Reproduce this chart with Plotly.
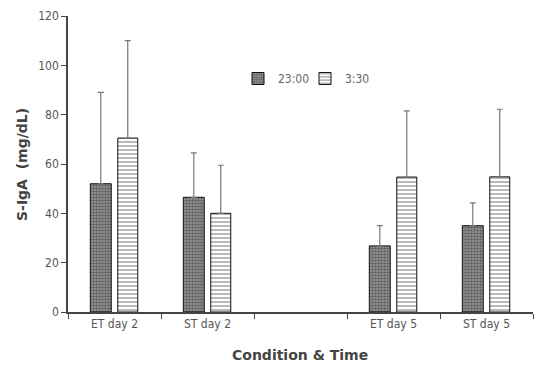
import plotly.graph_objects as go

categories = ["ET day 2", "ST day 2", " ", "ET day 5", "ST day 5"]
series_names = ["23:00", "3:30"]
vals_2300 = [52, 46.5, None, 26.8, 35]
top_2300 = [89, 64.5, None, 35, 44.2]
vals_0330 = [70.5, 40, None, 54.7, 54.8]
top_0330 = [110, 59.5, None, 81.5, 82.2]

def upper(vals, tops):
    return [(t - v) if v is not None else None for v, t in zip(vals, tops)]

font_fam = "DejaVu Sans Condensed, Liberation Sans Narrow, Liberation Sans"

fig = go.Figure()
fig.add_trace(go.Bar(
    name=series_names[0], x=categories, y=vals_2300,
    offset=-0.26, width=0.225, legend="legend",
    marker=dict(color="#808080", line=dict(color="#111", width=1),
                pattern=dict(shape=".", fgcolor="#262626", bgcolor="#9a9a9a", size=3, solidity=0.55)),
    error_y=dict(type="data", symmetric=False, array=upper(vals_2300, top_2300),
                 arrayminus=[0]*5, color="#777", thickness=1.2, width=3),
))
fig.add_trace(go.Bar(
    name=series_names[1], x=categories, y=vals_0330,
    offset=0.035, width=0.215, legend="legend2",
    marker=dict(color="white", line=dict(color="#111", width=1),
                pattern=dict(shape="-", fgcolor="#111", bgcolor="white", size=4, solidity=0.3)),
    error_y=dict(type="data", symmetric=False, array=upper(vals_0330, top_0330),
                 arrayminus=[0]*5, color="#777", thickness=1.2, width=3),
))

W, H = 535, 373
L, R, T, B = 68, 2, 16, 61
pw, ph = W - L - R, H - T - B

def px_x(x):
    return (x - L) / pw

def px_y(y):
    return (H - B - y) / ph

leg_common = dict(orientation="h", xanchor="left", yanchor="top",
                  font=dict(family=font_fam, size=12, color="#666"),
                  bgcolor="rgba(0,0,0,0)", itemwidth=30)
fig.update_layout(
    width=W, height=H,
    margin=dict(l=L, r=R, t=T, b=B, autoexpand=False),
    plot_bgcolor="white", paper_bgcolor="white",
    showlegend=True,
    legend=dict(x=px_x(238), y=px_y(64), **leg_common),
    legend2=dict(x=px_x(305), y=px_y(64), **leg_common),
    font=dict(family=font_fam, color="#555"),
    annotations=[
        dict(text="<b>Condition &amp; Time</b>", x=px_x(300), y=px_y(355), xref="paper", yref="paper",
             showarrow=False, xanchor="center", yanchor="middle",
             font=dict(family="DejaVu Sans, Verdana", size=14, color="#444")),
        dict(text="<b>S-IgA  (mg/dL)</b>", x=px_x(22), y=px_y(165), xref="paper", yref="paper",
             showarrow=False, xanchor="center", yanchor="middle", textangle=-90,
             font=dict(family="DejaVu Sans, Verdana", size=14, color="#444")),
    ],
)
fig.update_xaxes(
    type="category", showline=True, linecolor="#444", linewidth=1.5,
    ticks="outside", tickson="boundaries", ticklen=5, tickcolor="#444",
    tickfont=dict(family=font_fam, size=12, color="#555"),
    showgrid=False, automargin=False,
)
fig.update_yaxes(
    range=[0, 120], dtick=20, showline=True, linecolor="#444", linewidth=1.5,
    ticks="outside", ticklen=5, tickcolor="#444", showgrid=False, zeroline=False,
    tickfont=dict(family=font_fam, size=12, color="#555"), automargin=False,
)
fig.write_html("out.html", config={"displayModeBar": False},
               post_script="document.body.style.margin='0';document.body.style.overflow='hidden';")
